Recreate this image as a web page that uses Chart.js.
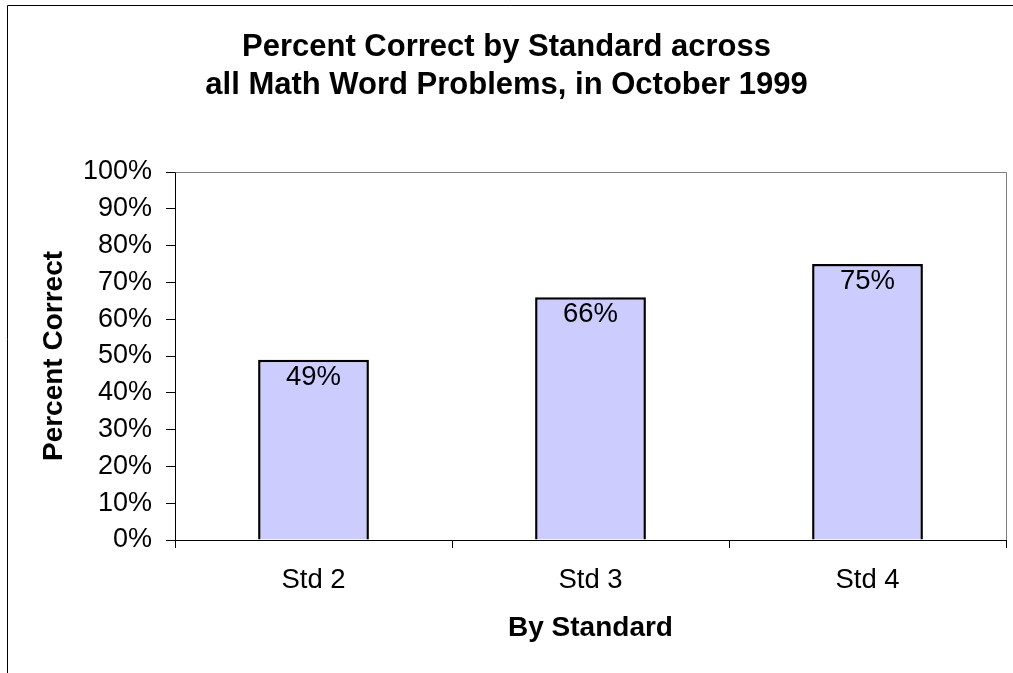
<!DOCTYPE html>
<html>
<head>
<meta charset="utf-8">
<script src="https://cdn.jsdelivr.net/npm/chart.js@4.4.0/dist/chart.umd.min.js"></script>
<style>
  html, body { margin: 0; padding: 0; background: #fff; }
  canvas { display: block; }
</style>
</head>
<body>
<canvas id="chart" width="1013" height="673"></canvas>
<script>
const CATEGORIES = [`Std 2`, `Std 3`, `Std 4`];
const PERCENT_CORRECT = [49, 66, 75];
const TITLE_LINES = [`Percent Correct by Standard across`, `all Math Word Problems, in October 1999`];

const FONT = `Arial, 'Liberation Sans', sans-serif`;
const BAR_FILL = `#CCCCFF`;

Chart.defaults.font.family = FONT;
Chart.defaults.color = `#000`;

// outer frame, plot box top/right edges and value labels inside bars
const decorations = {
	id: `decorations`,
	afterDatasetsDraw: (chart) => {
		let ctx = chart.ctx;
		let meta = chart.getDatasetMeta(0);
		ctx.save();
		ctx.font = `27.5px ${FONT}`;
		ctx.fillStyle = `#000`;
		ctx.textAlign = `center`;
		ctx.textBaseline = `alphabetic`;
		meta.data.forEach((bar, i) => {
			ctx.fillText(PERCENT_CORRECT[i] + `%`, bar.x, bar.y + 25);
		});
		ctx.restore();
	},
	afterDraw: (chart) => {
		let ctx = chart.ctx;
		let a = chart.chartArea;
		ctx.save();
		ctx.lineWidth = 1;
		ctx.strokeStyle = `#808080`;
		ctx.beginPath();
		ctx.moveTo(Math.round(a.left) + 0.5, Math.round(a.top) + 0.5);
		ctx.lineTo(Math.round(a.right) + 0.5, Math.round(a.top) + 0.5);
		ctx.lineTo(Math.round(a.right) + 0.5, Math.round(a.bottom));
		ctx.stroke();
		ctx.strokeStyle = `#000`;
		ctx.beginPath();
		ctx.moveTo(7.5, 673);
		ctx.lineTo(7.5, 5.5);
		ctx.lineTo(1013, 5.5);
		ctx.stroke();
		ctx.restore();
	},
};

let percentChart = new Chart(document.getElementById(`chart`).getContext(`2d`),
{
	type: `bar`,
	data: {
		labels: CATEGORIES,
		datasets: [
		{
			label: `Percent Correct`,
			data: PERCENT_CORRECT,
			backgroundColor: BAR_FILL,
			borderColor: `#000`,
			borderWidth: 2.5,
			categoryPercentage: 1,
			barPercentage: 0.4,
		},],
	},
	options: {
		responsive: false,
		animation: false,
		layout: { padding: { left: 7, right: 7, top: 0, bottom: 0 } },
		plugins: {
			legend: { display: false },
			tooltip: { enabled: false },
			title: {
				display: true,
				text: TITLE_LINES,
				color: `#000`,
				font: { size: 31, weight: `bold`, lineHeight: 1.226 },
				padding: { top: 28, bottom: 68 },
			},
		},
		scales: {
			x: {
				grid: { offset: true, drawOnChartArea: false, color: `#000`, tickLength: 8 },
				border: { color: `#000`, width: 1 },
				ticks: { font: { size: 27.5 }, color: `#000`, padding: 16, maxRotation: 0 },
				title: {
					display: true,
					text: `By Standard`,
					color: `#000`,
					font: { size: 28, weight: `bold` },
					padding: { top: 0, bottom: 28 },
				},
				afterFit: (scale) => { scale.height = 133; },
			},
			y: {
				min: 0,
				max: 100,
				grid: { drawOnChartArea: false, color: `#000`, tickLength: 9 },
				border: { color: `#000`, width: 1 },
				ticks: {
					stepSize: 10,
					font: { size: 27 },
					color: `#000`,
					padding: 14,
					callback: (v) => v + `%`,
				},
				title: {
					display: true,
					text: `Percent Correct`,
					color: `#000`,
					font: { size: 28, weight: `bold` },
					padding: { top: 30, bottom: 0 },
				},
				afterFit: (scale) => { scale.width = 168; },
			},
		},
	},
	plugins: [decorations],
});
</script>
</body>
</html>
